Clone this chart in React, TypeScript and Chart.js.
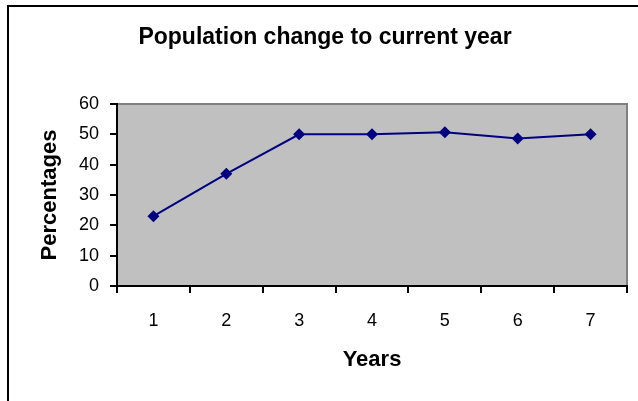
import React, { useEffect, useRef } from "react";
import { Chart, registerables } from "chart.js";

Chart.register(...registerables);

const years = ["1", "2", "3", "4", "5", "6", "7"];
const percentages = [23, 37, 50, 50, 50.7, 48.6, 50];
const yMin = 0;
const yMax = 60;
const yStep = 10;
const chartTitle = "Population change to current year";
const xTitle = "Years";
const yTitle = "Percentages";

const FONT = "'Liberation Sans', Arial, Helvetica, sans-serif";

const plotBg = {
  id: "plotBg",
  beforeDraw(chart: any) {
    const { ctx, chartArea: a } = chart;
    ctx.save();
    ctx.fillStyle = "#C0C0C0";
    ctx.fillRect(a.left, a.top, a.right - a.left, a.bottom - a.top);
    ctx.strokeStyle = "#808080";
    ctx.lineWidth = 2;
    ctx.beginPath();
    ctx.moveTo(a.left, a.top);
    ctx.lineTo(a.right, a.top);
    ctx.lineTo(a.right, a.bottom);
    ctx.stroke();
    ctx.restore();
  },
};

export default function App() {
  const ref = useRef<HTMLCanvasElement | null>(null);

  useEffect(() => {
    if (!ref.current) return;
    const chart = new Chart(ref.current, {
      type: "line",
      data: {
        labels: years,
        datasets: [
          {
            data: percentages,
            borderColor: "#000080",
            backgroundColor: "#000080",
            borderWidth: 2,
            pointStyle: "rectRot",
            pointRadius: 6,
            pointBackgroundColor: "#000080",
            pointBorderColor: "#000080",
            pointBorderWidth: 0,
            tension: 0,
            fill: false,
          },
        ],
      },
      options: {
        responsive: false,
        animation: false,
        devicePixelRatio: 1,
        layout: { padding: { left: 23, right: 11, top: 0, bottom: 0 } },
        plugins: {
          legend: { display: false },
          tooltip: { enabled: false },
          title: {
            display: true,
            text: chartTitle,
            color: "#000",
            font: { family: FONT, size: 23, weight: "bold" },
            padding: { top: 23.7, bottom: 52.7 },
          },
        },
        scales: {
          x: {
            type: "category",
            offset: true,
            grid: {
              offset: true,
              drawOnChartArea: false,
              drawTicks: true,
              tickLength: 7,
              color: "#000",
              lineWidth: 2,
            },
            border: { color: "#000", width: 2 },
            ticks: {
              color: "#000",
              padding: 17,
              autoSkip: false,
              maxRotation: 0,
              font: { family: FONT, size: 18 },
            },
            title: {
              display: true,
              text: xTitle,
              color: "#000",
              font: { family: FONT, size: 22, weight: "bold" },
              padding: { top: 0, bottom: 27.8 },
            },
            afterFit(s: any) {
              s.height = 115;
            },
          },
          y: {
            min: yMin,
            max: yMax,
            grid: {
              drawOnChartArea: false,
              drawTicks: true,
              tickLength: 7,
              color: "#000",
              lineWidth: 2,
            },
            border: { color: "#000", width: 2 },
            ticks: {
              stepSize: yStep,
              color: "#000",
              padding: 11,
              font: { family: FONT, size: 18 },
            },
            title: {
              display: true,
              text: yTitle,
              color: "#000",
              font: { family: FONT, size: 22, weight: "bold" },
              padding: { top: 13.8, bottom: 0 },
            },
            afterFit(s: any) {
              s.width = 94;
            },
          },
        },
      },
      plugins: [plotBg],
    });
    return () => chart.destroy();
  }, []);

  return (
    <div
      style={{
        position: "fixed",
        left: 0,
        top: 0,
        width: 638,
        height: 401,
        overflow: "hidden",
        background: "#fff",
      }}
    >
      <div
        style={{
          position: "absolute",
          left: 7,
          top: 5,
          width: 700,
          height: 500,
          borderTop: "2px solid #000",
          borderLeft: "2px solid #000",
          boxSizing: "border-box",
        }}
      />
      <canvas
        ref={ref}
        width={638}
        height={401}
        style={{ position: "absolute", left: 0, top: 0, width: 638, height: 401 }}
      />
    </div>
  );
}
